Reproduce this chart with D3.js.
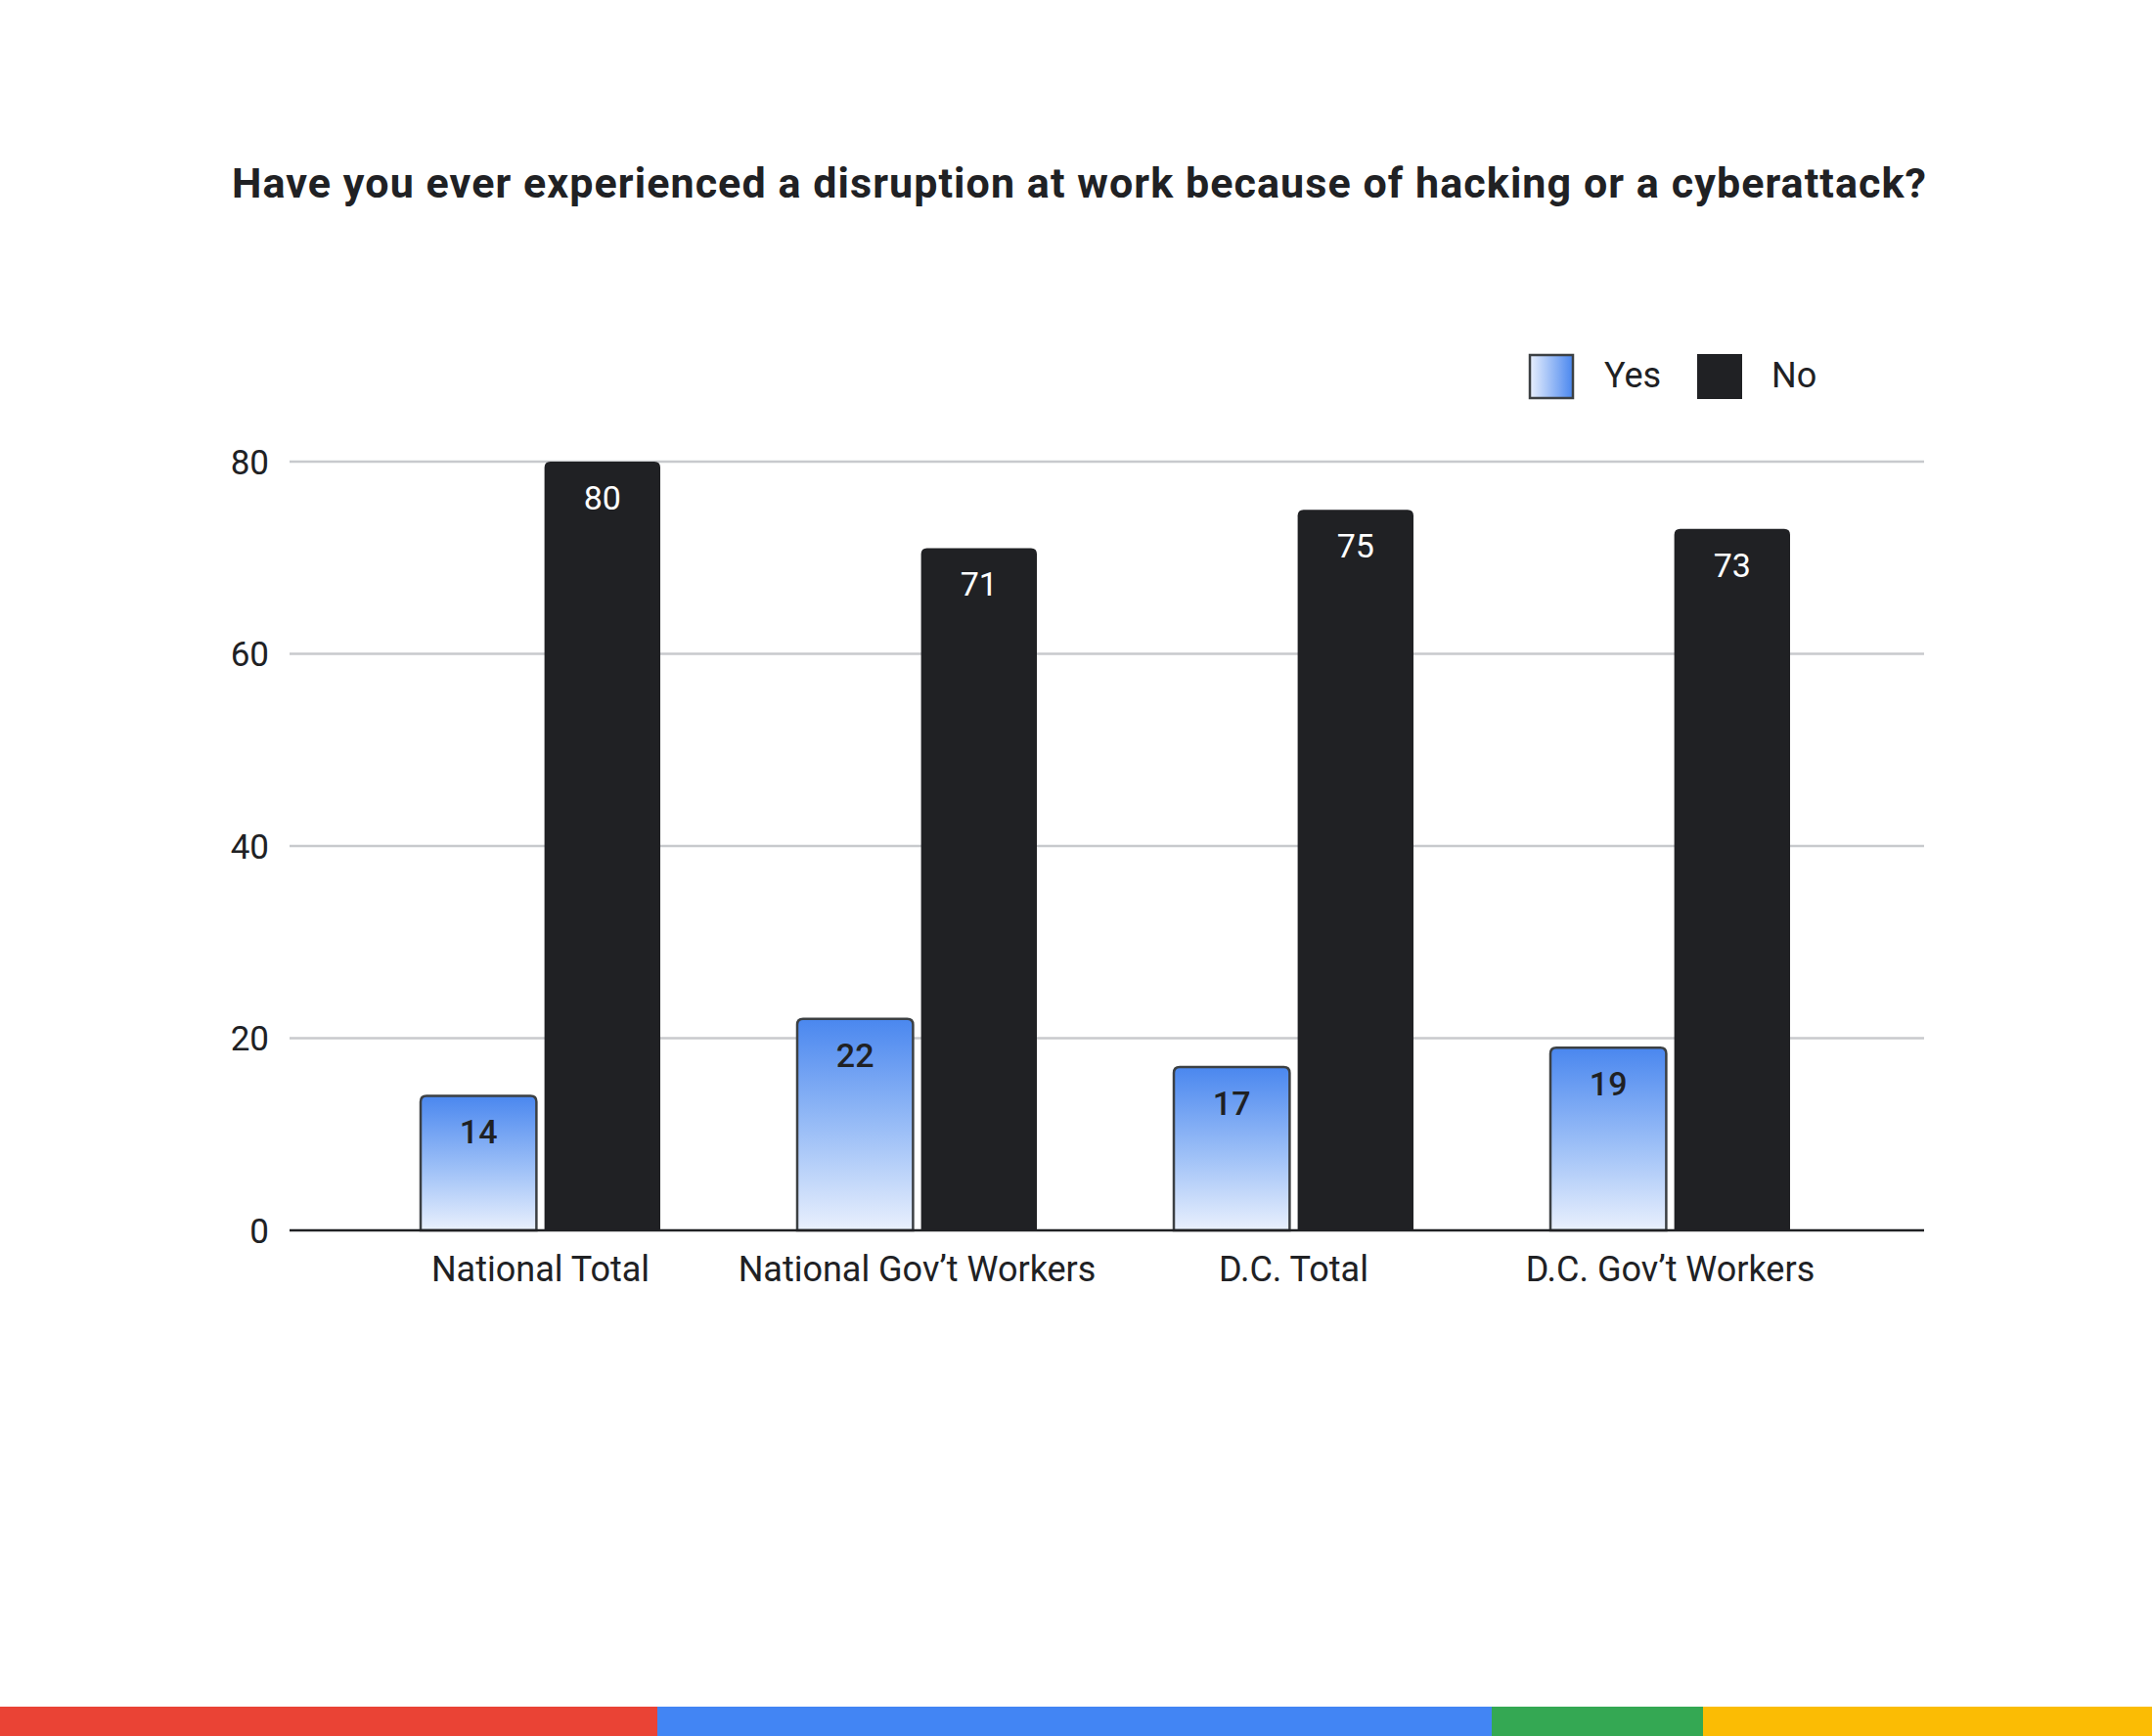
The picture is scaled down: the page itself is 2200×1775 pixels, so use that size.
<!DOCTYPE html>
<html>
<head>
<meta charset="utf-8">
<script src="https://cdn.jsdelivr.net/npm/d3@7"></script>
<style>
  html, body { margin: 0; padding: 0; background: #ffffff; }
  svg { display: block; }
  text { font-family: Roboto, "Noto Sans", sans-serif; }
</style>
</head>
<body>
<svg id="chart" width="2200" height="1775"></svg>
<script>
const title = "Have you ever experienced a disruption at work because of hacking or a cyberattack?";
const categories = ["National Total", "National Gov\u2019t Workers", "D.C. Total", "D.C. Gov\u2019t Workers"];
const seriesNames = ["Yes", "No"];
const yesValues = [14, 22, 17, 19];
const noValues = [80, 71, 75, 73];
const yTicks = [0, 20, 40, 60, 80];
const stripeColors = ["#ea4335", "#4285f4", "#34a853", "#fbbc04"];
const stripeBreaks = [0, 672, 1525, 1741, 2200];

const svg = d3.select("#chart");
const W = 2200, H = 1775;
const plotLeft = 296, plotRight = 1967;

const data = categories.map((c, i) => ({ cat: c, Yes: yesValues[i], No: noValues[i] }));

const y = d3.scaleLinear().domain([0, 80]).range([1258, 472]);
const x0 = d3.scaleBand().domain(categories).range([360, 1900])
  .paddingInner(140 / 385).paddingOuter(70 / 385);
const x1 = d3.scaleBand().domain(seriesNames).range([0, x0.bandwidth()]).paddingInner(0.065);

const defs = svg.append("defs");
const gv = defs.append("linearGradient").attr("id", "yesGradV")
  .attr("x1", 0).attr("y1", 0).attr("x2", 0).attr("y2", 1);
gv.append("stop").attr("offset", "0%").attr("stop-color", "#4a87ef");
gv.append("stop").attr("offset", "55%").attr("stop-color", "#9fc1f7");
gv.append("stop").attr("offset", "100%").attr("stop-color", "#e9f0fd");
const gh = defs.append("linearGradient").attr("id", "yesGradH")
  .attr("x1", 0).attr("y1", 0).attr("x2", 1).attr("y2", 0);
gh.append("stop").attr("offset", "0%").attr("stop-color", "#e9f0fd");
gh.append("stop").attr("offset", "100%").attr("stop-color", "#4a87ef");

// Title
svg.append("text")
  .attr("x", 1103).attr("y", 202)
  .attr("text-anchor", "middle")
  .attr("font-size", 43).attr("font-weight", 700)
  .attr("fill", "#202124")
  .attr("textLength", 1732).attr("lengthAdjust", "spacing")
  .text(title);

// Gridlines
svg.append("g").selectAll("line").data(yTicks.filter(d => d > 0)).join("line")
  .attr("x1", plotLeft).attr("x2", plotRight)
  .attr("y1", d => y(d)).attr("y2", d => y(d))
  .attr("stroke", "#c8cacd").attr("stroke-width", 2.5);

// Y axis labels
const yAxis = d3.axisLeft(y).tickValues(yTicks).tickSize(0).tickPadding(0);
const yg = svg.append("g").attr("transform", `translate(275,0)`).call(yAxis);
yg.select(".domain").remove();
yg.selectAll("text").attr("font-size", 35).attr("fill", "#202124")
  .attr("font-family", "Roboto, sans-serif").attr("dy", "0.35em");

function topRounded(x, yTop, w, h, r) {
  r = Math.min(r, h / 2, w / 2);
  return `M${x},${yTop + h} L${x},${yTop + r} Q${x},${yTop} ${x + r},${yTop} ` +
    `L${x + w - r},${yTop} Q${x + w},${yTop} ${x + w},${yTop + r} L${x + w},${yTop + h} Z`;
}

// Bars
const groups = svg.append("g").selectAll("g").data(data).join("g")
  .attr("transform", d => `translate(${x0(d.cat)},0)`);

groups.selectAll("path").data(d => seriesNames.map(k => ({ key: k, value: d[k] }))).join("path")
  .attr("d", d => topRounded(x1(d.key), y(d.value), x1.bandwidth(), y(0) - y(d.value), 6))
  .attr("fill", d => d.key === "Yes" ? "url(#yesGradV)" : "#202124")
  .attr("stroke", d => d.key === "Yes" ? "#3c4043" : "none")
  .attr("stroke-width", 2.5);

groups.selectAll("text").data(d => seriesNames.map(k => ({ key: k, value: d[k] }))).join("text")
  .attr("x", d => x1(d.key) + x1.bandwidth() / 2)
  .attr("y", d => y(d.value) + 49)
  .attr("text-anchor", "middle")
  .attr("font-size", 34)
  .attr("font-weight", d => d.key === "Yes" ? 500 : 400)
  .attr("fill", d => d.key === "Yes" ? "#202124" : "#ffffff")
  .text(d => d.value);

// Baseline
svg.append("line")
  .attr("x1", plotLeft).attr("x2", plotRight)
  .attr("y1", y(0)).attr("y2", y(0))
  .attr("stroke", "#202124").attr("stroke-width", 2.5);

// X axis labels
const xAxis = d3.axisBottom(x0).tickSize(0).tickPadding(0);
const xg = svg.append("g").attr("transform", `translate(0,${y(0)})`).call(xAxis);
xg.select(".domain").remove();
xg.selectAll("text").attr("font-size", 36).attr("fill", "#202124")
  .attr("font-family", "Roboto, sans-serif").attr("y", 52).attr("dy", 0);

// Legend
const legend = svg.append("g");
legend.append("rect").attr("x", 1564).attr("y", 363).attr("width", 44).attr("height", 44)
  .attr("fill", "url(#yesGradH)").attr("stroke", "#3c4043").attr("stroke-width", 2.5);
legend.append("text").attr("x", 1640).attr("y", 396).attr("font-size", 36)
  .attr("fill", "#202124").text(seriesNames[0]);
legend.append("rect").attr("x", 1735).attr("y", 362).attr("width", 46).attr("height", 46)
  .attr("fill", "#202124");
legend.append("text").attr("x", 1811).attr("y", 396).attr("font-size", 36)
  .attr("fill", "#202124").text(seriesNames[1]);

// Bottom stripe
svg.append("g").selectAll("rect").data(stripeColors).join("rect")
  .attr("x", (d, i) => stripeBreaks[i])
  .attr("width", (d, i) => stripeBreaks[i + 1] - stripeBreaks[i])
  .attr("y", 1745).attr("height", H - 1745)
  .attr("fill", d => d);
</script>
</body>
</html>
